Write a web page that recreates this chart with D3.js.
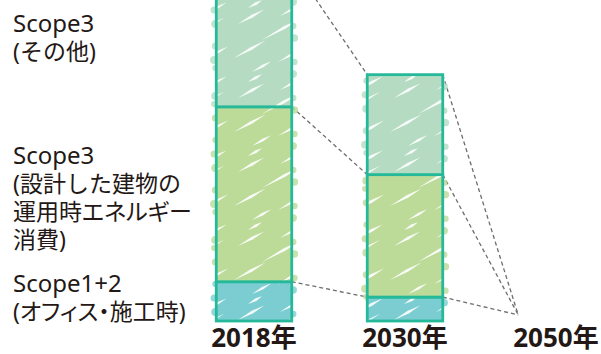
<!DOCTYPE html>
<html>
<head>
<meta charset="utf-8">
<script src="https://cdn.jsdelivr.net/npm/d3@7"></script>
<style>
  body { margin: 0; background: #fff; }
  svg { display: block; }
  text { font-family: "Noto Sans", "Noto Sans CJK JP", sans-serif; fill: #231815; }
  text.palt { font-feature-settings: "palt" 1; }
</style>
</head>
<body>
<svg id="chart" width="601" height="354"></svg>
<script>
'use strict';

// data (2018 total = 100)
const years = ['2018年', '2030年', '2050年'];
const keys = ['scope12', 'operation', 'other'];
const scope12 = [11, 6.7, 1.7];
const operation = [49, 34.3, 0];
const other = [40, 28, 0];
const hasBar = [true, true, false];

const labelOther = ['Scope3', '(その他)'];
const labelOperation = ['Scope3', '(設計した建物の', '運用時エネルギー', '消費)'];
const labelScope12 = ['Scope1+2', '(オフィス・施工時)'];

// look
const colors = { scope12: '#7ccdd1', operation: '#bcda98', other: '#b5dcc3' };
const outline = '#25b99a';

const svg = d3.select('#chart');

const x = d3.scaleBand()
    .domain(years)
    .range([178.5, 631.5])
    .paddingInner(0.5)
    .paddingOuter(0.25);
const y = d3.scaleLinear().domain([0, 100]).range([321, -36]);
const bw = x.bandwidth();

const rows = years.map((yr, i) => ({
    year: yr, scope12: scope12[i], operation: operation[i], other: other[i], bar: hasBar[i]
}));
const stacked = d3.stack().keys(keys)(rows);

// crayon texture: fill colour with tapered white streaks
const defs = svg.append('defs');
const ang = 29 * Math.PI / 180;
const streaks = [[4, 24, 30], [28, 40, 46], [0, 58, 36], [44, 62, 32], [46, 16, 28], [14, 8, 16], [18, 72, 22]];
let streakPath = d => {
    const [sx, sy, len] = d;
    const ex = sx + len * Math.cos(ang), ey = sy - len * Math.sin(ang);
    const mx = sx + (ex - sx) * 0.55, my = sy + (ey - sy) * 0.55;
    const w = 1.4;
    const nx = Math.sin(ang) * w, ny = Math.cos(ang) * w;
    return `M${sx},${sy} L${mx + nx},${my + ny} L${ex},${ey} L${mx - nx},${my - ny} Z`;
};
keys.forEach(k => {
    let p = defs.append('pattern')
        .attr('id', `tex-${k}`)
        .attr('patternUnits', 'userSpaceOnUse')
        .attr('width', 78).attr('height', 74);
    p.append('rect').attr('width', 78).attr('height', 74).attr('fill', colors[k]);
    p.selectAll('path')
        .data(streaks)
        .enter().append('path')
        .attr('d', streakPath)
        .attr('fill', '#fff')
        .attr('opacity', 0.9);
});

// dashed connectors between the tops of each segment
let links = [];
stacked.forEach(s => {
    for (let i = 0; i < s.length - 1; i++) {
        links.push({
            x1: x(years[i]) + bw, y1: y(s[i][1]),
            x2: x(years[i + 1]), y2: y(s[i + 1][1])
        });
    }
});
svg.selectAll('line.link')
    .data(links)
    .enter().append('line')
    .attr('class', 'link')
    .attr('x1', d => d.x1).attr('y1', d => d.y1)
    .attr('x2', d => d.x2).attr('y2', d => d.y2)
    .attr('stroke', '#6d6d6d')
    .attr('stroke-width', 1.3)
    .attr('stroke-dasharray', '4 3');

// soft blobs along the bar sides
let segColor = (i, yy) => {
    for (let s of stacked) {
        if (yy >= y(s[i][1]) && yy <= y(s[i][0])) return colors[s.key];
    }
    return colors.other;
};
let blobs = [];
rows.forEach((r, i) => {
    if (!r.bar) return;
    const top = Math.max(y(stacked[stacked.length - 1][i][1]), -10);
    const bottom = y(0);
    const x0 = x(r.year), x1 = x0 + bw;
    let k = 0;
    for (let yy = top + 6; yy < bottom - 4; yy += 12) {
        if (k % 4 != 3) {
            blobs.push({ cx: x0 - 1 - (k % 2) * 1.2, cy: yy + (k % 3) * 2, r: 3 + (k % 3) * 0.5, fill: segColor(i, yy) });
        }
        if (k % 3 != 1) {
            blobs.push({ cx: x1 + 1.5 + (k % 2) * 1.2, cy: yy + 6, r: 3.2 + ((k + 1) % 3) * 0.5, fill: segColor(i, yy + 6) });
        }
        k++;
    }
});
svg.selectAll('circle.blob')
    .data(blobs)
    .enter().append('circle')
    .attr('class', 'blob')
    .attr('cx', d => d.cx).attr('cy', d => d.cy).attr('r', d => d.r)
    .attr('fill', d => d.fill)
    .attr('opacity', 0.8);

// stacked segments
const layer = svg.selectAll('g.layer')
    .data(stacked)
    .enter().append('g')
    .attr('class', 'layer');
layer.selectAll('rect')
    .data(s => s.filter(d => d.data.bar).map(d => Object.assign(d, { key: s.key })))
    .enter().append('rect')
    .attr('x', d => x(d.data.year))
    .attr('y', d => y(d[1]))
    .attr('width', bw)
    .attr('height', d => y(d[0]) - y(d[1]))
    .attr('fill', d => `url(#tex-${d.key})`)
    .attr('stroke', outline)
    .attr('stroke-width', 2.8);

// category labels
svg.selectAll('text.year')
    .data(years)
    .enter().append('text')
    .attr('class', 'year')
    .attr('x', d => x(d) + bw / 2)
    .attr('y', 347)
    .attr('text-anchor', 'middle')
    .attr('font-size', '26px')
    .attr('font-weight', 'bold')
    .text(d => d);

// left legend labels, one text per line
const legend = [
    { lines: labelOther, y: 32 },
    { lines: labelOperation, y: 164 },
    { lines: labelScope12, y: 292 }
];
legend.forEach(g => {
    svg.selectAll(null)
        .data(g.lines)
        .enter().append('text')
        .attr('class', d => /[ァ-ヶー]/.test(d) ? 'legend palt' : 'legend')
        .attr('x', 13)
        .attr('y', (d, j) => g.y + j * 28)
        .attr('font-size', (d, j) => j == 0 ? '24px' : '23px')
        .text(d => d);
});
</script>
</body>
</html>
